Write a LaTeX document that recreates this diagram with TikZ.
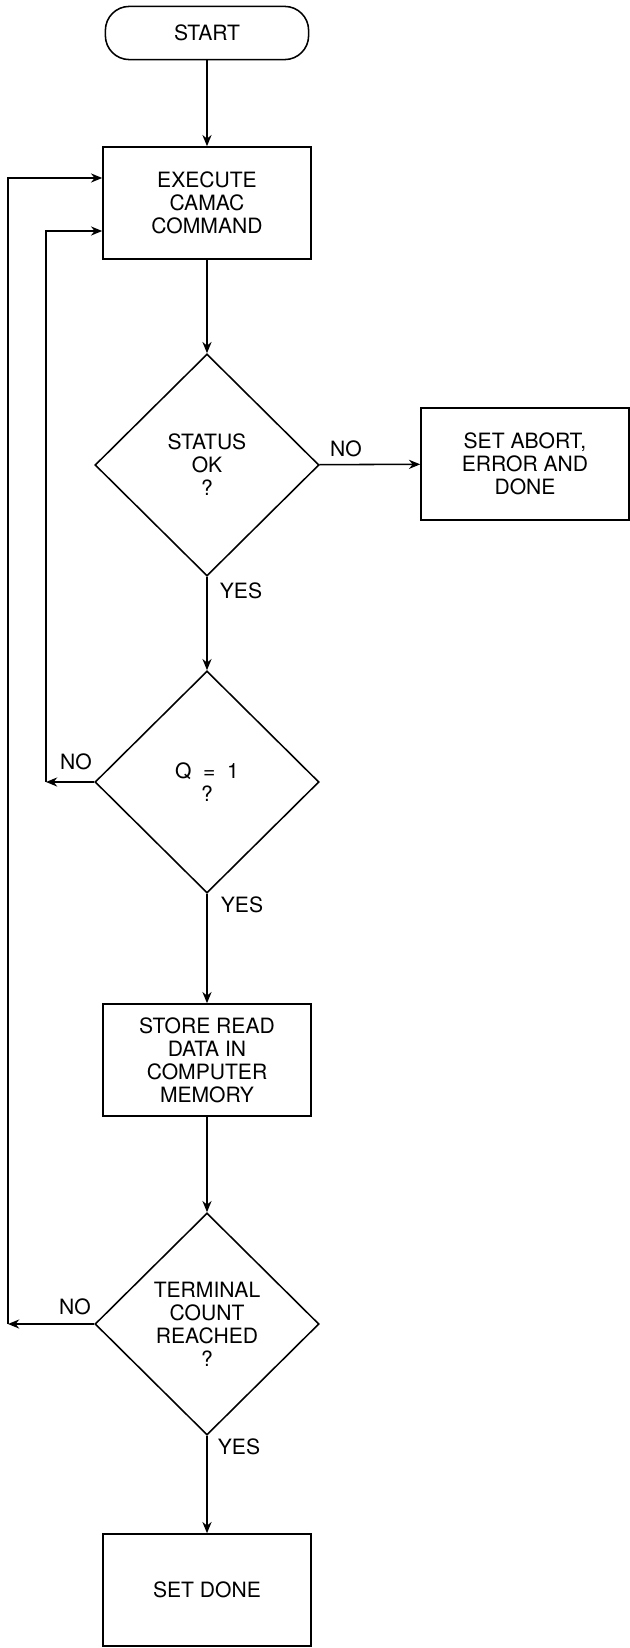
\documentclass[tikz,border=0pt]{standalone}
\usepackage{fontspec}
\setmainfont{TeX Gyre Heros}
\usetikzlibrary{arrows.meta,shapes.geometric}

\tikzset{
  box/.style={draw, align=center, inner sep=0pt, minimum width=5.2cm, minimum height=2.8cm},
  decision/.style={draw, diamond, align=center, inner sep=0pt, minimum width=5.6cm, minimum height=5.55cm},
  terminal/.style={draw, rounded corners=0.6cm, align=center, inner sep=0pt, minimum width=5.08cm, minimum height=1.33cm},
  lbl/.style={inner sep=0pt},
}

\begin{document}
\begin{tikzpicture}[x=0.025cm, y=-0.025cm, >={Stealth[length=8pt, width=6.5pt]}, line width=1.1pt,
    font=\fontsize{15}{16.3}\selectfont]
    \useasboundingbox (0,0) rectangle (630,1648);

    % main column
    \node[terminal] (start) at (207,33) {START};
    \node[box] (exec) at (207,203) {EXECUTE\\CAMAC\\COMMAND};
    \node[decision] (status) at (207,465) {STATUS\\OK\\?};
    \node[box] (abort) at (525,464) {SET ABORT,\\ERROR AND\\DONE};
    \node[decision] (qone) at (207,782) {Q~~=~~1\\?};
    \node[box] (store) at (207,1060) {STORE READ\\DATA IN\\COMPUTER\\MEMORY};
    \node[decision] (term) at (207,1324) {TERMINAL\\COUNT\\REACHED\\?};
    \node[box] (done) at (207,1590) {SET DONE};

    % loop corners
    \coordinate (inner) at (46,782);
    \coordinate (outer) at (8,1324);

    \draw[->] (start) -- (exec);
    \draw[->] (exec) -- (status);
    \draw[->] (status) -- (abort);
    \draw[->] (status) -- (qone);
    \draw[->] (qone) -- (store);
    \draw[->] (store) -- (term);
    \draw[->] (term) -- (done);

    \draw[->] (qone.west) -- (inner);
    \draw[->] (inner) |- ([yshift=-0.7cm]exec.west);
    \draw[->] (term.west) -- (outer);
    \draw[->] (outer) |- ([yshift=0.625cm]exec.west);

    % branch labels
    \node[lbl] (no1) at (346,449) {NO};
    \node[lbl] (yes1) at (241,591) {YES};
    \node[lbl] (no2) at (76,762) {NO};
    \node[lbl] (yes2) at (242,905) {YES};
    \node[lbl] (no3) at (75,1307) {NO};
    \node[lbl] (yes3) at (239,1447) {YES};
\end{tikzpicture}
\end{document}
